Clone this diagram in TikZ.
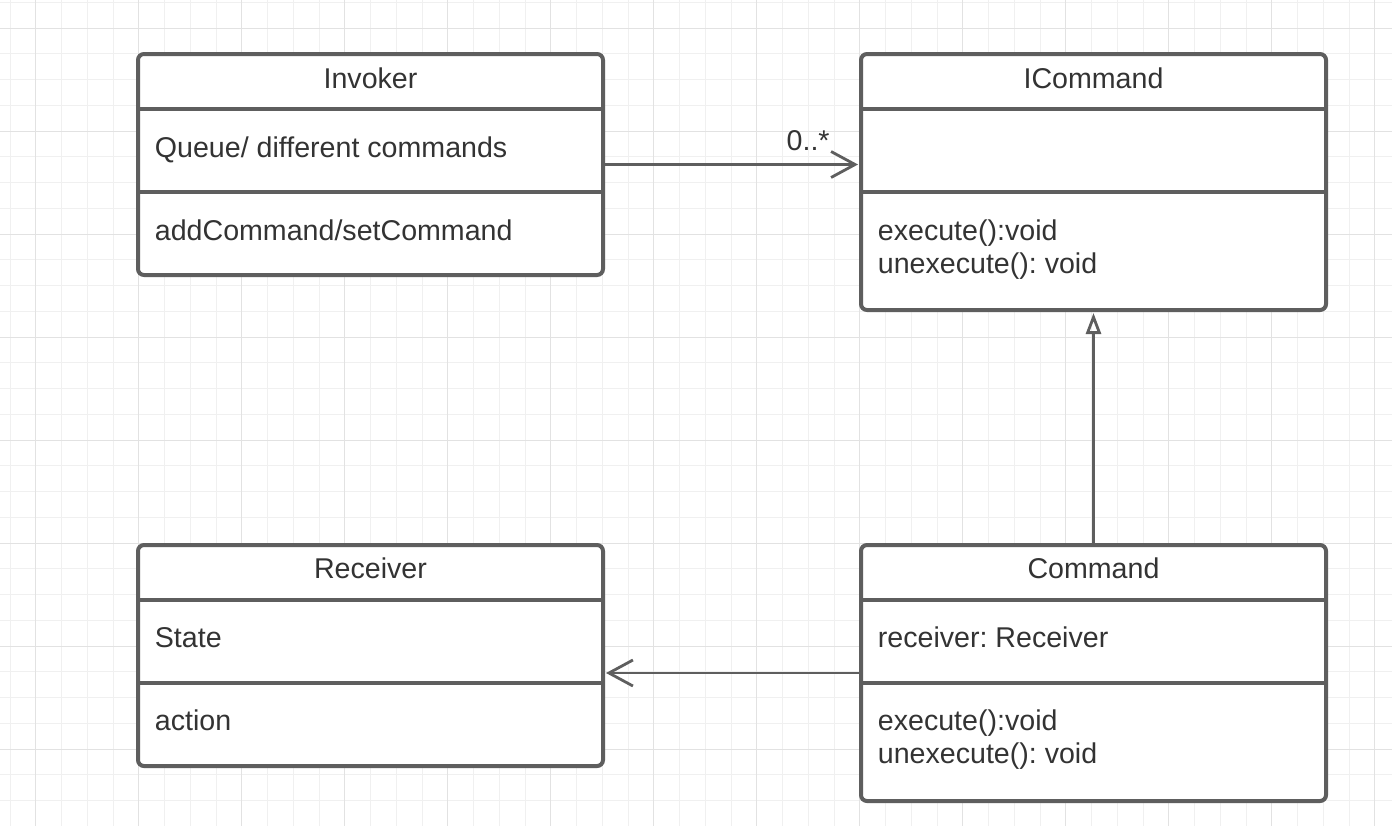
\documentclass[tikz,border=0pt]{standalone}
\usepackage{fontspec}
\setmainfont{Liberation Sans}
\usetikzlibrary{arrows.meta, calc, positioning}

\definecolor{umlline}{HTML}{5E5E5E}
\definecolor{umltext}{HTML}{333333}
\definecolor{gridminor}{HTML}{F0F0F0}
\definecolor{gridmajor}{HTML}{E2E2E2}

\begin{document}
\frenchspacing
\begin{tikzpicture}[x=0.5pt, y=-0.5pt, >=Stealth,
  every node/.style={font=\fontsize{14.3pt}{16.5pt}\selectfont, text=umltext}]

  % Define styles
  \tikzstyle{classbox} = [rectangle, rounded corners=3pt, draw=umlline, line width=2pt, fill=white, minimum width=232.5pt, inner sep=0pt, outer sep=0pt, anchor=north west]
  \tikzstyle{divider} = [draw=umlline, line width=2pt]
  \tikzstyle{classtitle} = [inner sep=0pt, anchor=base]
  \tikzstyle{member} = [inner sep=0pt, anchor=base west, align=left]
  \tikzstyle{assoc} = [draw=umlline, line width=1.4pt, -{Straight Barb[length=12pt, width=13pt]}, shorten >=1.5pt]
  \tikzstyle{realize} = [draw=umlline, line width=1.4pt, -{Triangle[open, length=10.5pt, width=7.5pt]}, shorten >=1.5pt]

  \useasboundingbox (0,0) rectangle (1392,826);
  \fill[white] (0,0) rectangle (1392,826);

  % Background grid
  \foreach \i in {0,...,53}
    \draw[gridminor, line width=0.5pt] ({10+25.75*\i},0) -- ({10+25.75*\i},826);
  \foreach \i in {0,...,31}
    \draw[gridminor, line width=0.5pt] (0,{2.3+25.75*\i}) -- (1392,{2.3+25.75*\i});
  \foreach \i in {0,...,13}
    \draw[gridmajor, line width=0.5pt] ({35.7+103*\i},0) -- ({35.7+103*\i},826);
  \foreach \i in {0,...,7}
    \draw[gridmajor, line width=0.5pt] (0,{28+103*\i}) -- (1392,{28+103*\i});

  % Place class boxes
  \node [classbox, minimum height=110.5pt] (invoker) at (138,54) {};
  \node [classbox, minimum height=128pt] (icommand) at (861,54) {};
  \node [classbox, minimum height=110.5pt] (receiver) at (138,545) {};
  \node [classbox, minimum height=128pt] (command) at (861,545) {};

  % Compartment lines
  \foreach \c in {invoker, icommand, receiver, command} {
    \draw [divider] ($(\c.north west)+(0,55)$) -- ($(\c.north east)+(0,55)$);
    \draw [divider] ($(\c.north west)+(0,138)$) -- ($(\c.north east)+(0,138)$);
  }

  % Texts
  \node [classtitle] (invokerTitle) at ($(invoker.north)+(0,34)$) {Invoker};
  \node [member] (invokerAttr) at ($(invoker.north west)+(16.5,103)$) {Queue/ different commands};
  \node [member] (invokerOps) at ($(invoker.north west)+(16.5,186)$) {addCommand/setCommand};

  \node [classtitle] (icommandTitle) at ($(icommand.north)+(0,34)$) {ICommand};
  \node [member] (icommandOps) at ($(icommand.north west)+(16.5,219)$) {execute():void\\unexecute(): void};

  \node [classtitle] (receiverTitle) at ($(receiver.north)+(0,33.5)$) {Receiver};
  \node [member] (receiverAttr) at ($(receiver.north west)+(16.5,102)$) {State};
  \node [member] (receiverOps) at ($(receiver.north west)+(16.5,185)$) {action};

  \node [classtitle] (commandTitle) at ($(command.north)+(0,33.5)$) {Command};
  \node [member] (commandAttr) at ($(command.north west)+(16.5,102)$) {receiver: Receiver};
  \node [member] (commandOps) at ($(command.north west)+(16.5,218)$) {execute():void\\unexecute(): void};

  % Draw connectors
  \path [assoc] (invoker.east) -- node[at end, anchor=base east, inner sep=0pt, xshift=-15pt, yshift=7pt] {0..*} (invoker.east -| icommand.west);
  \path [realize] (command.north) -- (icommand.south);
  \path [assoc] (command.west) -- (command.west -| receiver.east);

\end{tikzpicture}
\end{document}
